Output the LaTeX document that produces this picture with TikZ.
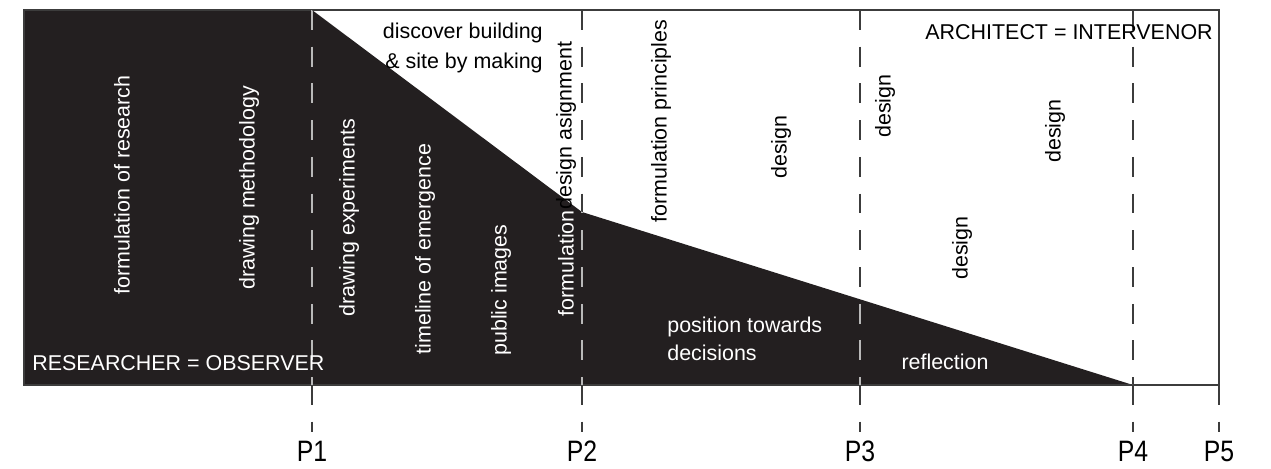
\documentclass[tikz,border=0pt]{standalone}
\usepackage{fontspec}
\setmainfont{Liberation Sans}
\usepackage{xcolor}

\definecolor{ink}{HTML}{231F20}
\definecolor{rule}{HTML}{3C3C3C}

\tikzset{
  txt/.style={font=\fontsize{12.2}{17}\selectfont, inner sep=0pt},
  wtxt/.style={txt, text=white},
  up/.style={rotate=90},
  phase/.style={line width=0.8pt, dash pattern=on 11.3pt off 9.6pt},
  plabel/.style={font=\fontsize{16.8}{20}\selectfont, inner sep=0pt, xscale=0.84},
}

\begin{document}
\begin{tikzpicture}[x=0.02cm,y=-0.02cm]
\useasboundingbox (0,0) rectangle (1271,468);
% corners of the frame and the dark wedge
\coordinate (tl) at (24,10);
\coordinate (bl) at (24,385);
\coordinate (tip) at (312,10);
\coordinate (knee) at (582,212);
\coordinate (foot) at (1133,385);
\coordinate (br) at (1219,385);

\fill[ink] (tl) -- (tip) -- (knee) -- (foot) -- (bl) -- cycle;
\draw[rule, line width=0.8pt] (tl) rectangle (br);

% phase lines, light where they cross the wedge
\foreach \x in {312,582,860,1133}
  \draw[phase, rule] (\x,10) -- (\x,385);
\begin{scope}
\clip (tl) -- (tip) -- (knee) -- (foot) -- (bl) -- cycle;
\foreach \x in {312,582,860,1133}
  \draw[phase, gray!55] (\x,10) -- (\x,385);
\end{scope}
\foreach \x/\p in {312/P1,582/P2,860/P3,1133/P4,1219/P5} {
  \draw[phase, rule] (\x,385) -- (\x,432);
  \node[plabel] (\p) at (\x,451) {\p};
}

% researcher side
\node[wtxt, up] (research) at (122,185) {formulation of research};
\node[wtxt, up] (method) at (249,188) {drawing methodology};
\node[wtxt, up] (experiments) at (349,218) {drawing experiments};
\node[wtxt, up] (timeline) at (425,249) {timeline of emergence};
\node[wtxt, up] (images) at (501,290) {public images};
\node[wtxt, up, anchor=east] (formulation) at (566,210) {formulation};
\node[txt, up, anchor=west] (assignment) at (566,210) {design asignment};
\node[txt, align=right, anchor=east] (discover) at (543,48) {discover building\\\& site by making};
\node[wtxt, anchor=west] (researcher) at (32,363) {RESEARCHER = OBSERVER};
\node[wtxt, align=left, anchor=west, font=\fontsize{12.2}{16}\selectfont] (position) at (667,339) {position towards\\decisions};
\node[wtxt] (reflection) at (945,362) {reflection};

% architect side
\node[txt, anchor=east] (architect) at (1213,32) {ARCHITECT = INTERVENOR};
\node[txt, up] (principles) at (661,121) {formulation principles};
\node[txt, up] (design1) at (781,147) {design};
\node[txt, up] (design2) at (885,106) {design};
\node[txt, up] (design3) at (1055,131) {design};
\node[txt, up] (design4) at (962,248) {design};
\end{tikzpicture}
\end{document}
